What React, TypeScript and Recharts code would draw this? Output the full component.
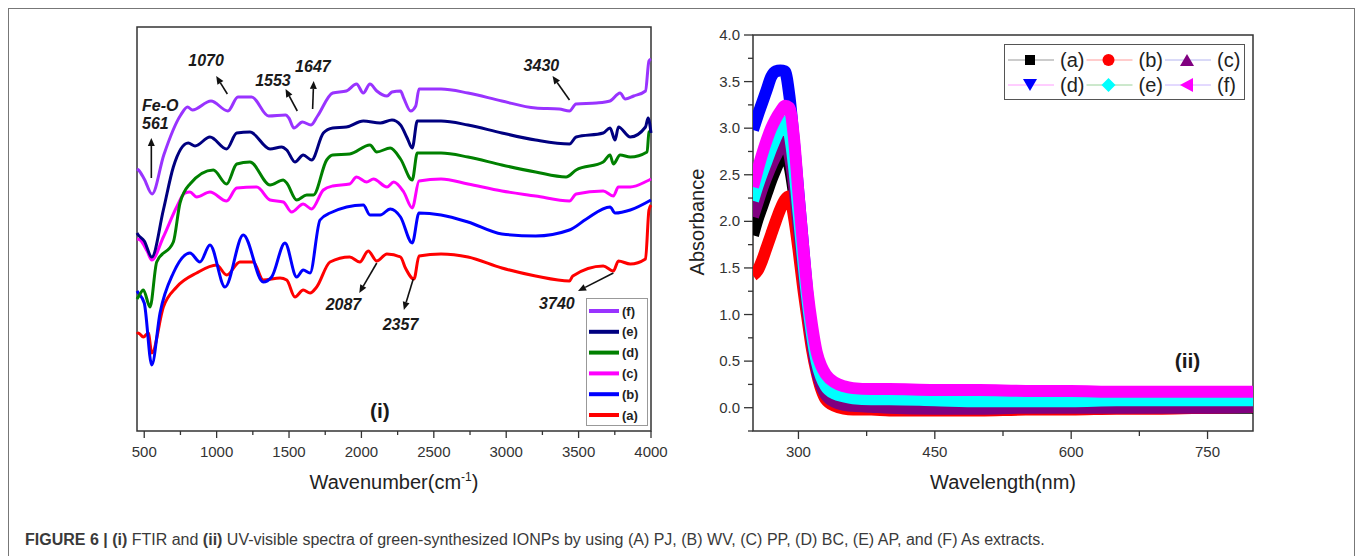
import React from "react";
import {
  LineChart,
  Line,
  XAxis,
  YAxis,
  ReferenceArea,
  ReferenceLine,
  ReferenceDot,
} from "recharts";

const FONT = "Arial, 'Liberation Sans', Helvetica, sans-serif";
const AXIS = "#333";

// ---------- (i) FTIR : [wavenumber, stacked transmittance (offset units)]
const ftirA = [
  [450, 97], [459, 98], [494, 94], [528, 98], [552, 78], [632, 124], [724, 144], [862, 158],
  [1000, 166], [1069, 156], [1161, 169], [1253, 169], [1322, 151], [1438, 153], [1484, 151],
  [1541, 134], [1598, 141], [1645, 138], [1691, 144], [1783, 169], [1919, 174], [1989, 169],
  [2047, 180], [2106, 170], [2176, 177], [2270, 174], [2304, 163], [2363, 152], [2398, 175],
  [2550, 177], [2736, 174], [2970, 163], [3203, 155], [3437, 150], [3460, 155], [3670, 165],
  [3740, 160], [3775, 170], [3857, 167], [3962, 172], [3986, 221], [4000, 226],
];
const ftirB = [
  [450, 140], [459, 138], [500, 128], [552, 66], [609, 118], [701, 158], [816, 178], [885, 169],
  [954, 186], [1058, 144], [1184, 196], [1322, 149], [1380, 154], [1472, 188], [1553, 154],
  [1598, 161], [1645, 158], [1714, 211], [1783, 218], [2013, 226], [2059, 216], [2130, 216],
  [2199, 222], [2270, 214], [2351, 188], [2398, 218], [2550, 216], [2736, 209], [2970, 197],
  [3203, 195], [3437, 201], [3554, 212], [3717, 224], [3752, 218], [3857, 221], [4000, 231],
];
const ftirC = [
  [450, 192], [471, 191], [520, 180], [552, 171], [632, 194], [724, 224], [781, 238], [816, 239],
  [862, 234], [954, 239], [1069, 230], [1139, 243], [1277, 244], [1369, 231], [1460, 229],
  [1518, 219], [1598, 227], [1656, 222], [1737, 241], [1802, 245], [1919, 247], [1966, 254],
  [2036, 249], [2083, 252], [2177, 244], [2223, 249], [2292, 239], [2351, 223], [2398, 250],
  [2550, 252], [2736, 247], [2970, 240], [3203, 235], [3437, 230], [3483, 237], [3670, 240],
  [3740, 235], [3775, 244], [3857, 244], [3973, 250], [4000, 252],
];
const ftirD = [
  [450, 132], [459, 134], [494, 141], [540, 124], [586, 169], [701, 189], [747, 228], [816, 247],
  [977, 261], [1069, 247], [1139, 267], [1230, 269], [1369, 246], [1460, 251], [1484, 248],
  [1553, 231], [1622, 236], [1668, 236], [1760, 271], [1802, 276], [1919, 277], [2059, 286],
  [2106, 279], [2199, 283], [2270, 272], [2351, 251], [2386, 278], [2550, 278], [2736, 274],
  [2970, 266], [3203, 259], [3413, 254], [3483, 261], [3670, 269], [3717, 276], [3740, 267],
  [3787, 276], [3857, 274], [3973, 279], [3986, 299], [4000, 300],
];
const ftirE = [
  [450, 198], [459, 196], [500, 190], [552, 174], [632, 221], [701, 264], [804, 288], [851, 285],
  [954, 294], [1069, 282], [1139, 298], [1230, 299], [1369, 282], [1449, 284], [1484, 281],
  [1541, 269], [1598, 276], [1656, 271], [1737, 298], [1802, 303], [1896, 304], [2013, 310],
  [2130, 308], [2211, 311], [2270, 306], [2316, 293], [2351, 283], [2386, 310], [2550, 310],
  [2736, 306], [2970, 298], [3203, 291], [3437, 287], [3483, 294], [3670, 298], [3717, 303],
  [3752, 291], [3775, 304], [3857, 294], [3962, 304], [3980, 313], [4000, 298],
];
const ftirF = [
  [450, 262], [460, 261], [500, 252], [554, 237], [635, 276], [752, 316], [799, 324], [833, 321],
  [961, 330], [1078, 320], [1147, 334], [1242, 334], [1359, 315], [1476, 316], [1499, 313],
  [1534, 303], [1592, 309], [1652, 306], [1697, 315], [1802, 338], [1896, 340], [1966, 347],
  [2013, 338], [2059, 347], [2106, 340], [2177, 335], [2211, 339], [2270, 340], [2292, 333],
  [2340, 320], [2375, 325], [2398, 342], [2550, 342], [2736, 338], [2970, 330], [3203, 323],
  [3366, 322], [3437, 320], [3482, 327], [3623, 328], [3717, 330], [3786, 338], [3822, 332],
  [3880, 335], [3962, 340], [3986, 370], [4000, 372],
];

const ftirNames = ["(a)", "(b)", "(c)", "(d)", "(e)", "(f)"];
const ftirColors = ["#ff0000", "#0000ff", "#ff00ff", "#008000", "#000080", "#9933ff"];
const ftirPoints = [ftirA, ftirB, ftirC, ftirD, ftirE, ftirF];
const ftirTicks = [500, 750, 1000, 1250, 1500, 1750, 2000, 2250, 2500, 2750, 3000, 3250, 3500, 3750, 4000];

// peak arrows: [from wavenumber, from value, to wavenumber, to value]
const ftirArrows = [
  [549, 253, 549, 293],
  [1074, 337, 997, 355],
  [1557, 320, 1476, 342],
  [1663, 322, 1670, 350],
  [3437, 331, 3320, 355],
  [2106, 168, 1985, 138],
  [2358, 152, 2293, 121],
  [3740, 158, 3496, 140],
];
const ftirNoteText = ["Fe-O", "561", "1070", "1553", "1647", "3430", "2087", "2357", "3740"];
const ftirNoteX = [485, 485, 927, 1389, 1665, 3243, 1876, 2270, 3350];
const ftirNoteY = [326, 308, 371, 351, 365, 366, 127, 107, 128];
const ftirNoteAnchor = ["start", "start", "middle", "middle", "middle", "middle", "middle", "middle", "middle"];

// ---------- (ii) UV-vis
const uvWavelengths = [250, 255, 260, 265, 270, 275, 280, 285, 290, 295, 300, 305, 310, 315, 320, 325, 330, 340, 350, 360, 380, 400, 450, 500, 550, 600, 650, 700, 750, 800];
const uvA = [1.85, 2.02, 2.16, 2.3, 2.44, 2.56, 2.67, 2.72, 2.6, 2.3, 1.9, 1.45, 1.02, 0.68, 0.42, 0.24, 0.13, 0.05, 0.02, 0.01, 0.0, -0.01, -0.01, -0.01, -0.01, 0.0, 0.0, 0.0, 0.0, 0.0];
const uvB = [1.42, 1.47, 1.58, 1.72, 1.86, 2.0, 2.13, 2.23, 2.27, 2.05, 1.7, 1.3, 0.95, 0.62, 0.38, 0.2, 0.09, 0.02, -0.01, -0.02, -0.02, -0.03, -0.03, -0.03, -0.02, -0.02, -0.01, -0.01, 0.0, 0.01];
const uvC = [2.05, 2.2, 2.35, 2.48, 2.6, 2.7, 2.8, 2.86, 2.72, 2.4, 1.95, 1.5, 1.05, 0.7, 0.43, 0.25, 0.14, 0.06, 0.03, 0.02, 0.01, 0.0, -0.01, -0.01, 0.0, 0.0, 0.0, 0.0, 0.0, 0.01];
const uvD = [2.98, 3.13, 3.27, 3.41, 3.55, 3.61, 3.62, 3.61, 3.35, 2.85, 2.3, 1.75, 1.2, 0.75, 0.42, 0.25, 0.15, 0.08, 0.05, 0.04, 0.03, 0.03, 0.02, 0.02, 0.02, 0.03, 0.03, 0.03, 0.03, 0.03];
const uvE = [2.22, 2.38, 2.52, 2.65, 2.78, 2.9, 3.0, 3.07, 2.95, 2.6, 2.1, 1.6, 1.15, 0.78, 0.5, 0.33, 0.23, 0.15, 0.12, 0.1, 0.09, 0.09, 0.08, 0.07, 0.07, 0.07, 0.08, 0.08, 0.08, 0.08];
const uvF = [2.37, 2.55, 2.72, 2.87, 3.0, 3.1, 3.18, 3.24, 3.22, 2.9, 2.3, 1.75, 1.25, 0.88, 0.6, 0.45, 0.36, 0.27, 0.23, 0.21, 0.2, 0.2, 0.19, 0.19, 0.18, 0.18, 0.17, 0.17, 0.17, 0.17];

const uvKeys = ["a", "b", "c", "d", "e", "f"];
const uvColors = ["#000000", "#ff0000", "#800080", "#0000ff", "#00ffff", "#ff00ff"];
const uvLegendLine = ["#999999", "#ff9a9a", "#b4b4f0", "#ff9cff", "#9ad29a", "#c8b4ff"];
const uvMarkers = ["square", "circle", "up", "down", "diamond", "left"];
const uvDrawOrder = [0, 1, 3, 2, 4, 5];
const uvTicksX = [300, 375, 450, 525, 600, 675, 750];
const uvTicksY = [-0.25, 0, 0.25, 0.5, 0.75, 1, 1.25, 1.5, 1.75, 2, 2.25, 2.5, 2.75, 3, 3.25, 3.5, 3.75, 4];

const uvSeries = [uvA, uvB, uvC, uvD, uvE, uvF];
const uvRows = uvWavelengths.map((wl, i) => {
  const row: any = { wl };
  uvKeys.forEach((k, j) => (row[k] = uvSeries[j][i]));
  return row;
});

// ---------- helpers
const FtirTick = (p: any) => {
  const major = p.payload.value % 500 === 0;
  return (
    <g>
      <line x1={p.x} x2={p.x} y1={p.y} y2={p.y + (major ? 7 : 4)} stroke={AXIS} strokeWidth={1.3} />
      {major && (
        <text x={p.x} y={p.y + 26} textAnchor="middle" fontSize={15} fill={AXIS} fontFamily={FONT}>
          {p.payload.value}
        </text>
      )}
    </g>
  );
};

const UvXTick = (p: any) => {
  const major = p.payload.value % 150 === 0;
  return (
    <g>
      <line x1={p.x} x2={p.x} y1={p.y} y2={p.y + (major ? 8 : 5)} stroke={AXIS} strokeWidth={1.3} />
      {major && (
        <text x={p.x} y={p.y + 26} textAnchor="middle" fontSize={15} fill={AXIS} fontFamily={FONT}>
          {p.payload.value}
        </text>
      )}
    </g>
  );
};

const UvYTick = (p: any) => {
  const v = p.payload.value;
  const major = Math.abs(v * 2 - Math.round(v * 2)) < 1e-6;
  return (
    <g>
      <line x1={p.x - (major ? 9 : 5)} x2={p.x} y1={p.y} y2={p.y} stroke={AXIS} strokeWidth={1.3} />
      {major && (
        <text x={p.x - 13} y={p.y + 5} textAnchor="end" fontSize={15} fill={AXIS} fontFamily={FONT}>
          {v.toFixed(1)}
        </text>
      )}
    </g>
  );
};

const Arrow = (p: any) => {
  const { x1, y1, x2, y2 } = p;
  const ang = Math.atan2(y2 - y1, x2 - x1);
  const len = 8;
  const half = 3.5;
  const bx = x2 - len * Math.cos(ang);
  const by = y2 - len * Math.sin(ang);
  const nx = -Math.sin(ang) * half;
  const ny = Math.cos(ang) * half;
  return (
    <g>
      <line x1={x1} y1={y1} x2={bx} y2={by} stroke="#111" strokeWidth={1.6} />
      <polygon points={`${x2},${y2} ${bx + nx},${by + ny} ${bx - nx},${by - ny}`} fill="#111" />
    </g>
  );
};

const noteShape = (text: string, anchor: string, size = 16, italic = true) => (p: any) => (
  <text
    x={p.cx}
    y={p.cy + size * 0.36}
    textAnchor={anchor}
    fontSize={size}
    fontWeight="bold"
    fontStyle={italic ? "italic" : "normal"}
    fill="#1a1a1a"
    fontFamily={FONT}
  >
    {text}
  </text>
);

const Marker = ({ kind, cx, cy, color }: any) => {
  if (kind === "square") return <rect x={cx - 5} y={cy - 5} width={10} height={10} fill={color} />;
  if (kind === "circle") return <circle cx={cx} cy={cy} r={6} fill={color} />;
  if (kind === "up") return <polygon points={`${cx},${cy - 6} ${cx + 7},${cy + 6} ${cx - 7},${cy + 6}`} fill={color} />;
  if (kind === "down") return <polygon points={`${cx},${cy + 6} ${cx + 7},${cy - 6} ${cx - 7},${cy - 6}`} fill={color} />;
  if (kind === "diamond") return <polygon points={`${cx},${cy - 7} ${cx + 7},${cy} ${cx},${cy + 7} ${cx - 7},${cy}`} fill={color} />;
  return <polygon points={`${cx - 7},${cy} ${cx + 6},${cy - 7} ${cx + 6},${cy + 7}`} fill={color} />;
};

const FtirLegend = () => (
  <svg
    width={60}
    height={126}
    style={{ position: "absolute", left: 586, top: 298, border: "1px solid #999", background: "#fff" }}
  >
    {ftirNames
      .map((n, i) => ({ n, c: ftirColors[i] }))
      .reverse()
      .map((e, i) => (
        <g key={e.n}>
          <line x1={2} x2={32} y1={12 + i * 20.8} y2={12 + i * 20.8} stroke={e.c} strokeWidth={4} />
          <text x={35} y={16.5 + i * 20.8} fontSize={13} fontWeight="bold" fill="#222" fontFamily={FONT}>
            {e.n}
          </text>
        </g>
      ))}
  </svg>
);

const UvLegend = () => (
  <svg
    width={239}
    height={54}
    style={{ position: "absolute", left: 1004, top: 44, border: "1.5px solid #555", background: "#fff" }}
  >
    {uvKeys.map((k, i) => {
      const col = i % 3;
      const row = Math.floor(i / 3);
      const x0 = 3 + col * 78.5;
      const cy = 15 + row * 25;
      return (
        <g key={k}>
          <line x1={x0} x2={x0 + 46} y1={cy} y2={cy} stroke={uvLegendLine[i]} strokeWidth={1} />
          <Marker kind={uvMarkers[i]} cx={x0 + 22} cy={cy} color={uvColors[i]} />
          <text x={x0 + 52} y={cy + 7} fontSize={20} fill="#222" fontFamily={FONT}>
            ({k})
          </text>
        </g>
      );
    })}
  </svg>
);

const App = () => {
  return (
    <div style={{ position: "absolute", left: 0, top: 0, width: 1357, height: 556, overflow: "hidden", background: "#fff", fontFamily: FONT }}>
      <div style={{ position: "absolute", left: 8, top: 8, width: 1347, height: 570, border: "1px solid #777", boxSizing: "border-box" }} />

      {/* (i) FTIR */}
      <div style={{ position: "absolute", left: 90, top: 0 }}>
        <LineChart width={600} height={500} margin={{ top: 27, right: 39, left: 47, bottom: 0 }}>
          <XAxis
            type="number"
            dataKey="x"
            domain={[450, 4000]}
            ticks={ftirTicks}
            interval={0}
            height={69}
            axisLine={false}
            tickLine={false}
            tickSize={0}
            tickMargin={0}
            tick={<FtirTick />}
            label={(p: any) => (
              <text x={p.viewBox.x + p.viewBox.width / 2} y={p.viewBox.y + 58} textAnchor="middle" fontSize={20} fill="#222" fontFamily={FONT}>
                Wavenumber(cm
                <tspan dy={-8} fontSize={12}>-1</tspan>
                <tspan dy={8}>)</tspan>
              </text>
            )}
          />
          <YAxis
            type="number"
            dataKey="y"
            domain={[0, 404]}
            width={0}
            tick={false}
            axisLine={false}
            tickLine={false}
            label={(p: any) => (
              <text
                x={p.viewBox.x - 20}
                y={p.viewBox.y + p.viewBox.height / 2}
                transform={`rotate(-90, ${p.viewBox.x - 20}, ${p.viewBox.y + p.viewBox.height / 2})`}
                textAnchor="middle"
                dominantBaseline="central"
                fontSize={20}
                fill="#222"
                fontFamily={FONT}
              >
                Transmittance(%)
              </text>
            )}
          />
          <ReferenceArea x1={450} x2={4000} y1={0} y2={404} fill="none" stroke={AXIS} strokeWidth={1.5} />
          {ftirPoints.map((pts, i) => (
            <Line
              key={ftirNames[i]}
              data={pts.map(([x, y]) => ({ x, y }))}
              dataKey="y"
              type="monotone"
              stroke={ftirColors[i]}
              strokeWidth={3}
              dot={false}
              isAnimationActive={false}
            />
          ))}
          {ftirArrows.map(([a, b, c, d], i) => (
            <ReferenceLine key={"ar" + i} segment={[{ x: a, y: b }, { x: c, y: d }]} shape={Arrow} />
          ))}
          {ftirNoteText.map((t, i) => (
            <ReferenceDot key={"nt" + i} x={ftirNoteX[i]} y={ftirNoteY[i]} r={0} shape={noteShape(t, ftirNoteAnchor[i])} />
          ))}
          <ReferenceDot x={2128} y={21} r={0} shape={noteShape("(i)", "middle", 21, false)} />
        </LineChart>
      </div>
      <FtirLegend />

      {/* (ii) UV-vis */}
      <div style={{ position: "absolute", left: 680, top: 0 }}>
        <LineChart width={620} height={500} data={uvRows} margin={{ top: 35, right: 47, left: 0, bottom: 0 }}>
          <XAxis
            type="number"
            dataKey="wl"
            domain={[250, 800]}
            allowDataOverflow
            ticks={uvTicksX}
            interval={0}
            height={69}
            axisLine={false}
            tickLine={false}
            tickSize={0}
            tickMargin={0}
            tick={<UvXTick />}
            label={(p: any) => (
              <text x={p.viewBox.x + p.viewBox.width / 2} y={p.viewBox.y + 58} textAnchor="middle" fontSize={20} fill="#222" fontFamily={FONT}>
                Wavelength(nm)
              </text>
            )}
          />
          <YAxis
            type="number"
            domain={[-0.25, 4]}
            allowDataOverflow
            ticks={uvTicksY}
            interval={0}
            width={73}
            axisLine={false}
            tickLine={false}
            tickSize={0}
            tickMargin={0}
            tick={<UvYTick />}
            label={(p: any) => (
              <text
                x={p.viewBox.x + 17}
                y={p.viewBox.y + 187}
                transform={`rotate(-90, ${p.viewBox.x + 17}, ${p.viewBox.y + 187})`}
                textAnchor="middle"
                dominantBaseline="central"
                fontSize={20}
                fill="#222"
                fontFamily={FONT}
              >
                Absorbance
              </text>
            )}
          />
          <ReferenceArea x1={250} x2={800} y1={-0.25} y2={4} fill="none" stroke={AXIS} strokeWidth={1.5} />
          {uvDrawOrder.map((i) => (
            <Line
              key={uvKeys[i]}
              dataKey={uvKeys[i]}
              type="monotone"
              stroke={uvColors[i]}
              strokeWidth={12}
              dot={false}
              isAnimationActive={false}
            />
          ))}
          <ReferenceDot x={728} y={0.51} r={0} shape={noteShape("(ii)", "middle", 21, false)} />
        </LineChart>
      </div>
      <UvLegend />

      <div style={{ position: "absolute", left: 25, top: 531, fontSize: 16, color: "#3a3a3a", whiteSpace: "nowrap" }}>
        <b>FIGURE 6 |</b> <b>(i)</b> FTIR and <b>(ii)</b> UV-visible spectra of green-synthesized IONPs by using (A) PJ, (B) WV,
        (C) PP, (D) BC, (E) AP, and (F) As extracts.
      </div>
    </div>
  );
};

export default App;
